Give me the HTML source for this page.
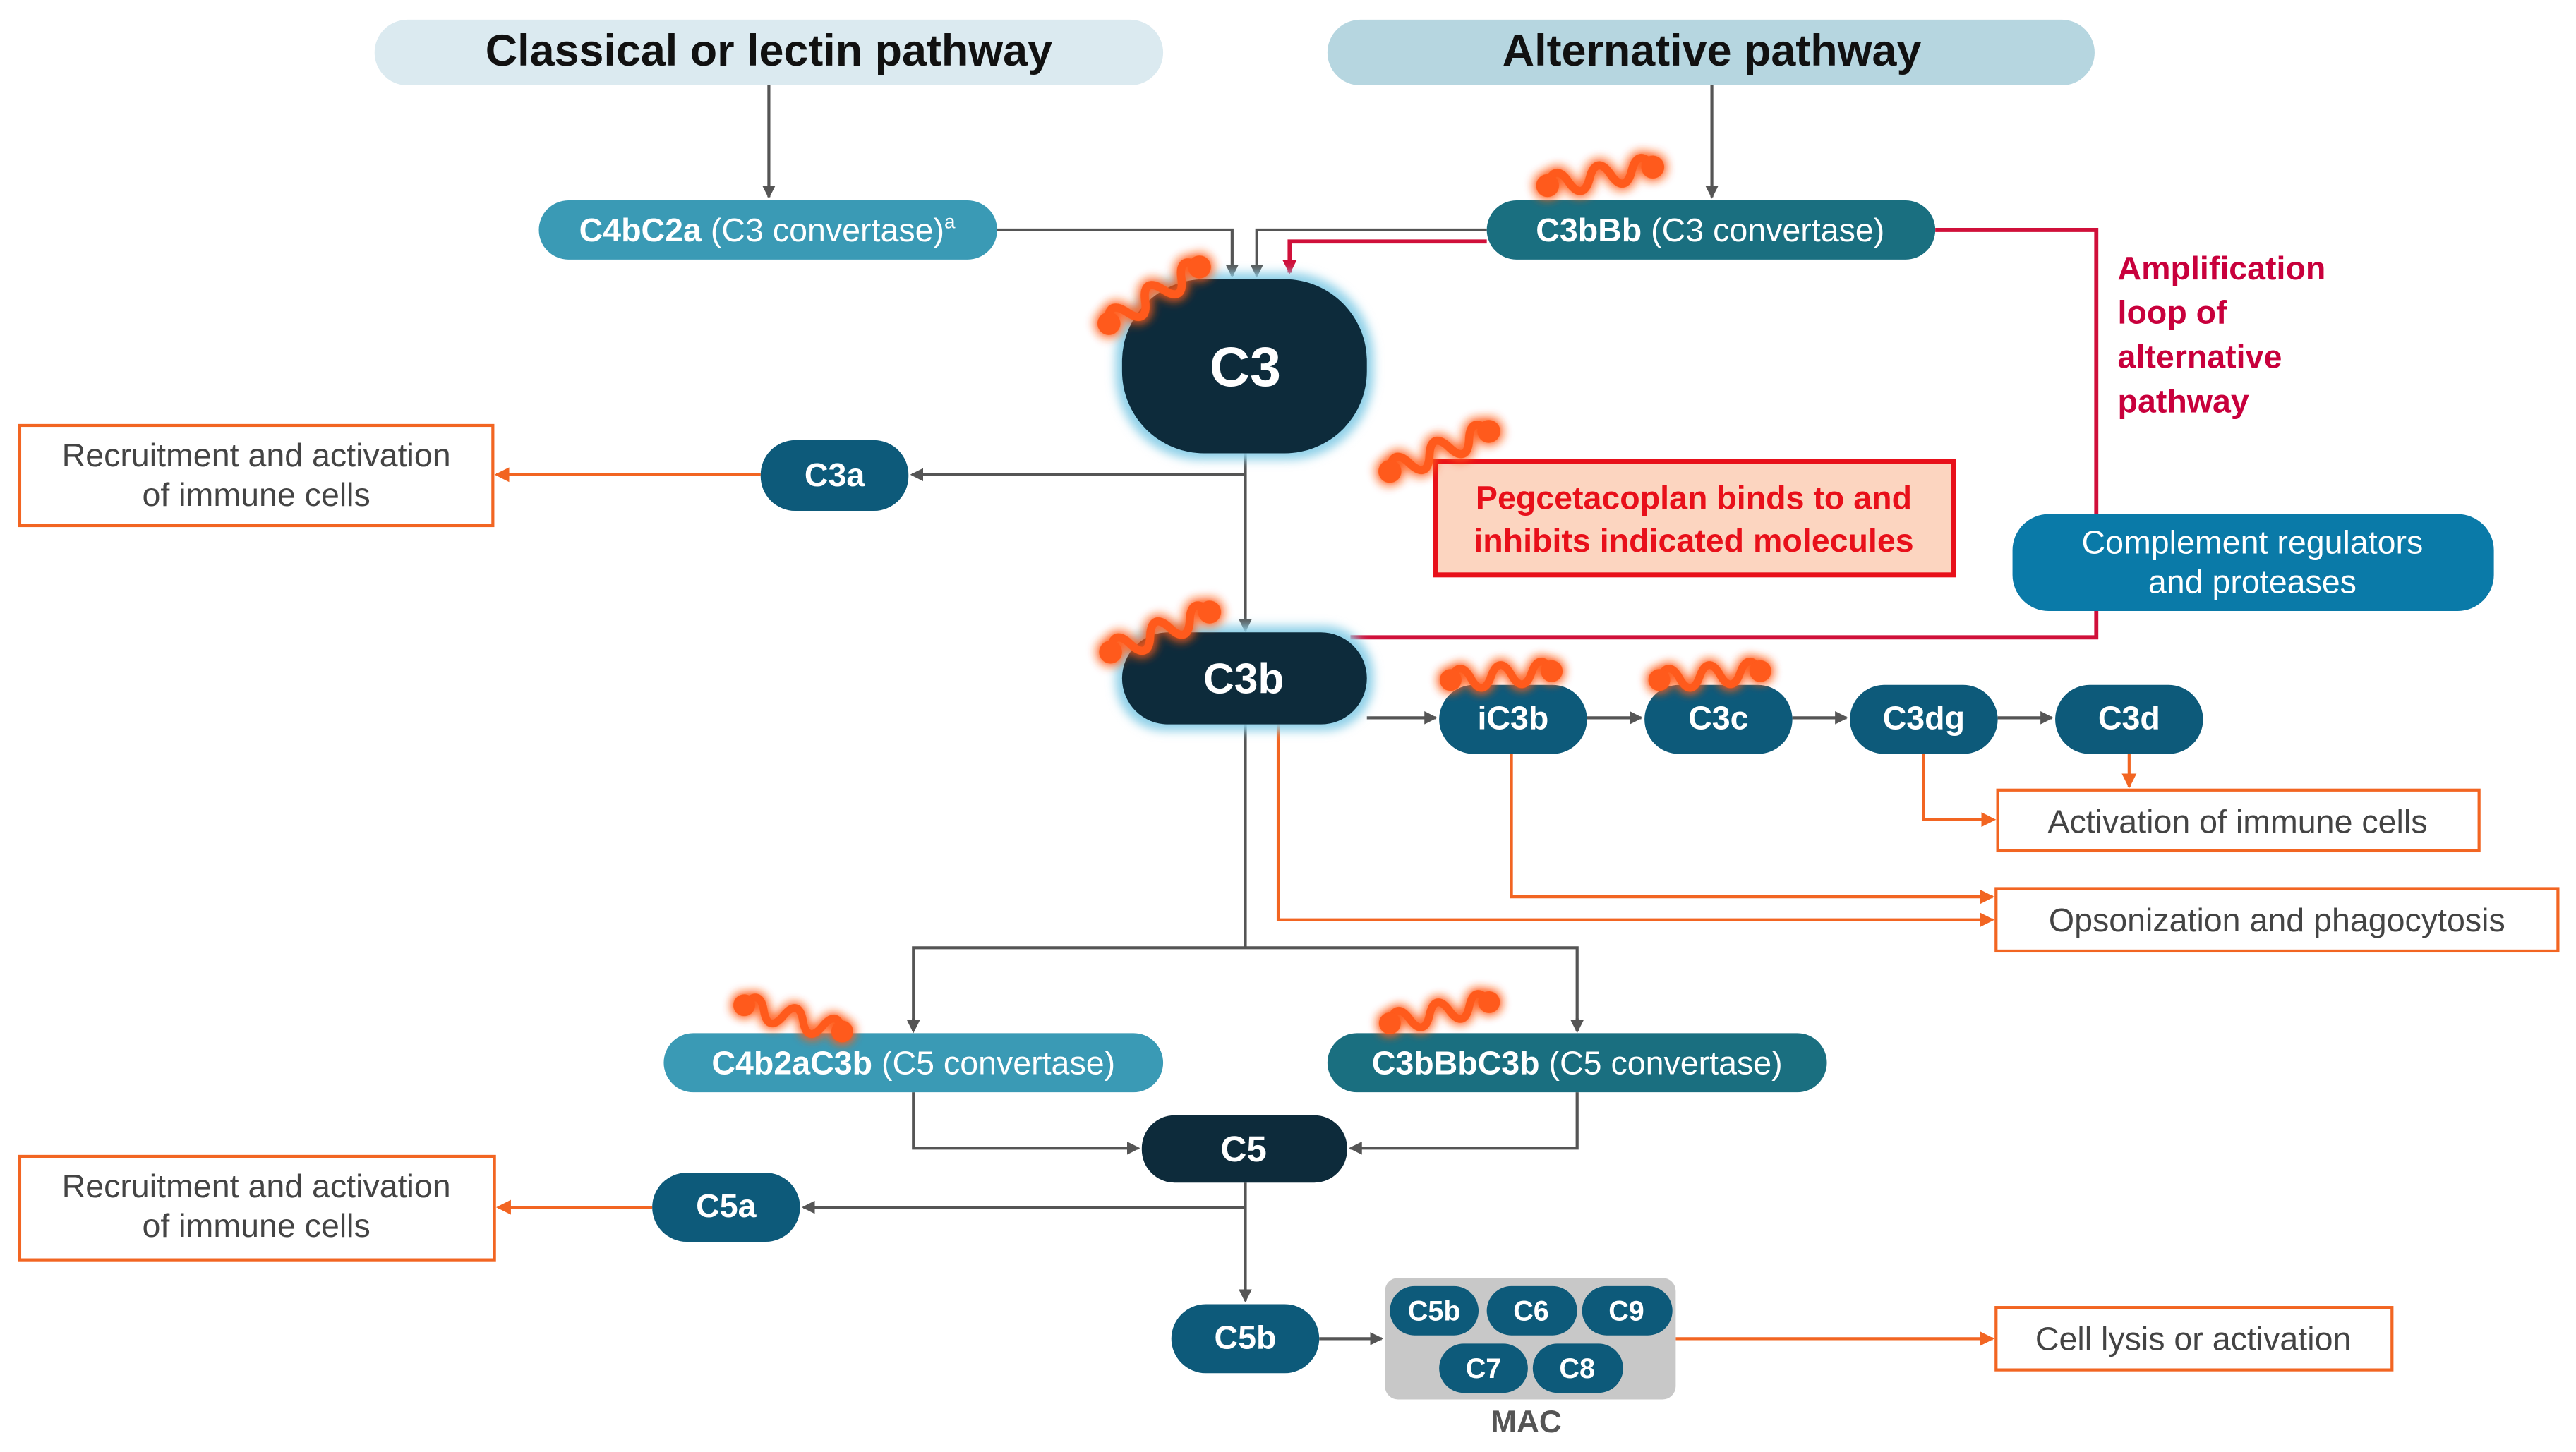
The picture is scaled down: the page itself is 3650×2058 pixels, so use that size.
<!DOCTYPE html>
<html><head><meta charset="utf-8"><style>
html,body{margin:0;padding:0;background:#fff;}
svg{display:block;}
text{font-family:"Liberation Sans",Arial,sans-serif;}
</style></head><body>
<svg width="3650" height="2058" viewBox="0 0 1568 884" preserveAspectRatio="none" xmlns="http://www.w3.org/2000/svg">
<defs>
<marker id="ag" markerWidth="8" markerHeight="8" refX="7" refY="4" orient="auto" markerUnits="userSpaceOnUse"><path d="M0,0 L8,4 L0,8z" fill="#555"/></marker>
<marker id="ao" markerWidth="9" markerHeight="9" refX="8" refY="4.5" orient="auto" markerUnits="userSpaceOnUse"><path d="M0,0 L9,4.5 L0,9z" fill="#f26522"/></marker>
<marker id="ar" markerWidth="9" markerHeight="9" refX="8" refY="4.5" orient="auto" markerUnits="userSpaceOnUse"><path d="M0,0 L9,4.5 L0,9z" fill="#d0103a"/></marker>
<filter id="glow" x="-30%" y="-80%" width="160%" height="260%"><feGaussianBlur stdDeviation="3.5" result="b"/><feMerge><feMergeNode in="b"/><feMergeNode in="b"/><feMergeNode in="SourceGraphic"/></feMerge></filter>
<filter id="halo" x="-20%" y="-20%" width="140%" height="140%"><feGaussianBlur stdDeviation="3"/></filter>
<g id="sq" filter="url(#glow)">
<path d="M0,0 c4,-9 9,-9 13,0 s9,9 13,0 s9,-9 13,0 s9,9 13,0 s9,-9 13,0" fill="none" stroke="#ff5a1a" stroke-width="5" stroke-linecap="round"/>
<circle cx="0" cy="0" r="7" fill="#ff5a1a"/><circle cx="65" cy="0" r="7" fill="#ff5a1a"/>
</g>
</defs>

<rect x="228" y="12" width="480" height="40" rx="20" fill="#dbeaf0"/>
<text x="468" y="40" text-anchor="middle" font-size="27" font-weight="bold" fill="#111">Classical or lectin pathway</text>
<rect x="808" y="12" width="467" height="40" rx="20" fill="#b6d6e0"/>
<text x="1042" y="40" text-anchor="middle" font-size="27" font-weight="bold" fill="#111">Alternative pathway</text>

<g stroke="#555" stroke-width="1.8" fill="none">
<line x1="468" y1="52" x2="468" y2="120" marker-end="url(#ag)"/>
<line x1="1042" y1="52" x2="1042" y2="120" marker-end="url(#ag)"/>
<polyline points="607,140 750,140 750,168" marker-end="url(#ag)"/>
<polyline points="905,140 765,140 765,168" marker-end="url(#ag)"/>
<line x1="758" y1="276" x2="758" y2="384" marker-end="url(#ag)"/>
<line x1="758" y1="289" x2="555" y2="289" marker-end="url(#ag)"/>
<line x1="832" y1="437" x2="874" y2="437" marker-end="url(#ag)"/>
<line x1="966" y1="437" x2="999" y2="437" marker-end="url(#ag)"/>
<line x1="1091" y1="437" x2="1124" y2="437" marker-end="url(#ag)"/>
<line x1="1216" y1="437" x2="1249" y2="437" marker-end="url(#ag)"/>
<line x1="758" y1="441" x2="758" y2="577"/>
<polyline points="556,628 556,577 960,577 960,628"/>
<line x1="556" y1="620" x2="556" y2="628" marker-end="url(#ag)"/>
<line x1="960" y1="620" x2="960" y2="628" marker-end="url(#ag)"/>
<polyline points="556,665 556,699 693,699" marker-end="url(#ag)"/>
<polyline points="960,665 960,699 822,699" marker-end="url(#ag)"/>
<line x1="758" y1="720" x2="758" y2="792" marker-end="url(#ag)"/>
<line x1="758" y1="735" x2="489" y2="735" marker-end="url(#ag)"/>
<line x1="803" y1="815" x2="841" y2="815" marker-end="url(#ag)"/>
</g>

<g stroke="#d0103a" stroke-width="2.5" fill="none">
<polyline points="1178,140 1276,140 1276,388 822,388"/>
<polyline points="905,147 785,147 785,166" marker-end="url(#ar)"/>
</g>

<g stroke="#f26522" stroke-width="1.8" fill="none">
<line x1="463" y1="289" x2="302" y2="289" marker-end="url(#ao)"/>
<line x1="397" y1="735" x2="303" y2="735" marker-end="url(#ao)"/>
<polyline points="1171,459 1171,499 1214,499" marker-end="url(#ao)"/>
<line x1="1296" y1="459" x2="1296" y2="479" marker-end="url(#ao)"/>
<polyline points="920,459 920,546 1213,546" marker-end="url(#ao)"/>
<polyline points="778,441 778,560 1213,560" marker-end="url(#ao)"/>
<line x1="1020" y1="815" x2="1213" y2="815" marker-end="url(#ao)"/>
</g>

<rect x="328" y="122" width="279" height="36" rx="18" fill="#3a9ab5"/>
<text x="467" y="147" text-anchor="middle" font-size="20" fill="#fff"><tspan font-weight="bold">C4bC2a</tspan> (C3 convertase)<tspan font-size="12" dy="-8">a</tspan></text>
<rect x="905" y="122" width="273" height="36" rx="18" fill="#1a6f80"/>
<text x="1041" y="147" text-anchor="middle" font-size="20" fill="#fff"><tspan font-weight="bold">C3bBb</tspan> (C3 convertase)</text>

<rect x="679" y="166" width="157" height="114" rx="52" fill="#8fd0e8" filter="url(#halo)"/>
<rect x="683" y="170" width="149" height="106" rx="50" fill="#0d2b3b"/>
<text x="758" y="235" text-anchor="middle" font-size="34" font-weight="bold" fill="#fff">C3</text>

<rect x="463" y="268" width="90" height="43" rx="21" fill="#0d5a7a"/>
<text x="508" y="296" text-anchor="middle" font-size="20" font-weight="bold" fill="#fff">C3a</text>

<rect x="12" y="259" width="288" height="61" fill="#fff" stroke="#f26522" stroke-width="1.8"/>
<text x="156" y="284" text-anchor="middle" font-size="20" fill="#444">Recruitment and activation</text>
<text x="156" y="308" text-anchor="middle" font-size="20" fill="#444">of immune cells</text>

<rect x="874" y="281" width="315" height="69" fill="#fcd5c0" stroke="#e8101a" stroke-width="3"/>
<text x="1031" y="310" text-anchor="middle" font-size="20" font-weight="bold" fill="#e8101a">Pegcetacoplan binds to and</text>
<text x="1031" y="336" text-anchor="middle" font-size="20" font-weight="bold" fill="#e8101a">inhibits indicated molecules</text>

<g font-size="20" font-weight="bold" fill="#c8003c">
<text x="1289" y="170">Amplification</text>
<text x="1289" y="197">loop of</text>
<text x="1289" y="224">alternative</text>
<text x="1289" y="251">pathway</text>
</g>

<rect x="1225" y="313" width="293" height="59" rx="22" fill="#0a7aa8"/>
<text x="1371" y="337" text-anchor="middle" font-size="20" fill="#fff">Complement regulators</text>
<text x="1371" y="361" text-anchor="middle" font-size="20" fill="#fff">and proteases</text>

<rect x="679" y="381" width="157" height="64" rx="30" fill="#8fd0e8" filter="url(#halo)"/>
<rect x="683" y="385" width="149" height="56" rx="28" fill="#0d2b3b"/>
<text x="757" y="422" text-anchor="middle" font-size="26" font-weight="bold" fill="#fff">C3b</text>

<g fill="#0d5a7a">
<rect x="876" y="417" width="90" height="42" rx="21"/>
<rect x="1001" y="417" width="90" height="42" rx="21"/>
<rect x="1126" y="417" width="90" height="42" rx="21"/>
<rect x="1251" y="417" width="90" height="42" rx="21"/>
</g>
<g font-size="20" font-weight="bold" fill="#fff" text-anchor="middle">
<text x="921" y="444">iC3b</text><text x="1046" y="444">C3c</text><text x="1171" y="444">C3dg</text><text x="1296" y="444">C3d</text>
</g>

<rect x="1216" y="481" width="293" height="37" fill="#fff" stroke="#f26522" stroke-width="1.8"/>
<text x="1362" y="507" text-anchor="middle" font-size="20" fill="#444">Activation of immune cells</text>
<rect x="1215" y="541" width="342" height="38" fill="#fff" stroke="#f26522" stroke-width="1.8"/>
<text x="1386" y="567" text-anchor="middle" font-size="20" fill="#444">Opsonization and phagocytosis</text>

<rect x="404" y="629" width="304" height="36" rx="18" fill="#3a9ab5"/>
<text x="556" y="654" text-anchor="middle" font-size="20" fill="#fff"><tspan font-weight="bold">C4b2aC3b</tspan> (C5 convertase)</text>
<rect x="808" y="629" width="304" height="36" rx="18" fill="#1a6f80"/>
<text x="960" y="654" text-anchor="middle" font-size="20" fill="#fff"><tspan font-weight="bold">C3bBbC3b</tspan> (C5 convertase)</text>

<rect x="695" y="679" width="125" height="41" rx="20" fill="#0d2b3b"/>
<text x="757" y="707" text-anchor="middle" font-size="22" font-weight="bold" fill="#fff">C5</text>

<rect x="397" y="714" width="90" height="42" rx="21" fill="#0d5a7a"/>
<text x="442" y="741" text-anchor="middle" font-size="20" font-weight="bold" fill="#fff">C5a</text>
<rect x="12" y="704" width="289" height="63" fill="#fff" stroke="#f26522" stroke-width="1.8"/>
<text x="156" y="729" text-anchor="middle" font-size="20" fill="#444">Recruitment and activation</text>
<text x="156" y="753" text-anchor="middle" font-size="20" fill="#444">of immune cells</text>

<rect x="713" y="794" width="90" height="42" rx="21" fill="#0d5a7a"/>
<text x="758" y="821" text-anchor="middle" font-size="20" font-weight="bold" fill="#fff">C5b</text>

<rect x="843" y="778" width="177" height="74" rx="8" fill="#c8c8c8"/>
<g fill="#0d5a7a">
<rect x="846" y="783" width="54" height="30" rx="15"/>
<rect x="905" y="783" width="55" height="30" rx="15"/>
<rect x="963" y="783" width="55" height="30" rx="15"/>
<rect x="876" y="818" width="54" height="30" rx="15"/>
<rect x="933" y="818" width="55" height="30" rx="15"/>
</g>
<g font-size="17" font-weight="bold" fill="#fff" text-anchor="middle">
<text x="873" y="804">C5b</text><text x="932" y="804">C6</text><text x="990" y="804">C9</text>
<text x="903" y="839">C7</text><text x="960" y="839">C8</text>
</g>
<text x="929" y="872" text-anchor="middle" font-size="19" font-weight="bold" fill="#555">MAC</text>

<rect x="1215" y="796" width="241" height="38" fill="#fff" stroke="#f26522" stroke-width="1.8"/>
<text x="1335" y="822" text-anchor="middle" font-size="20" fill="#444">Cell lysis or activation</text>

<use href="#sq" transform="translate(675,197) rotate(-32)"/>
<use href="#sq" transform="translate(942,113) rotate(-10)"/>
<use href="#sq" transform="translate(846,287) rotate(-22)"/>
<use href="#sq" transform="translate(676,397) rotate(-22)"/>
<use href="#sq" transform="translate(883,414) rotate(-5) scale(0.95)"/>
<use href="#sq" transform="translate(1010,414) rotate(-5) scale(0.95)"/>
<use href="#sq" transform="translate(453,612) rotate(15) scale(0.95)"/>
<use href="#sq" transform="translate(846,623) rotate(-12) scale(0.95)"/>
</svg>
</body></html>
